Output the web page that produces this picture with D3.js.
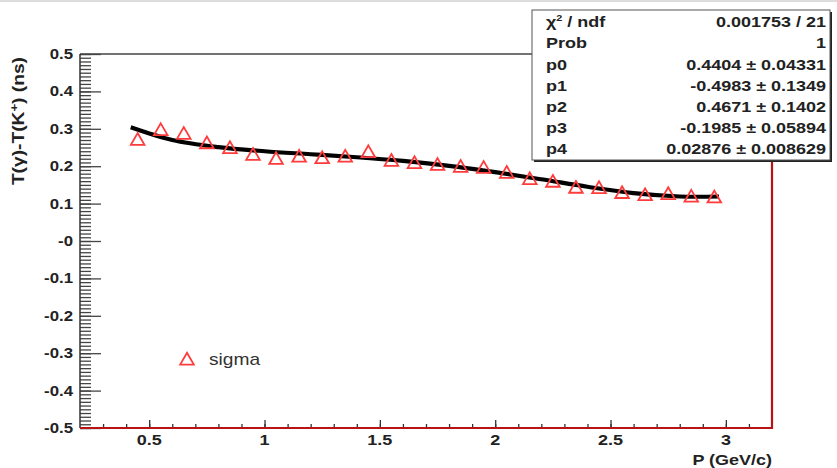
<!DOCTYPE html>
<html>
<head>
<meta charset="utf-8">
<title>sigma fit</title>
<style>
  body { margin: 0; background: #fff; }
  svg { display: block; }
  text { font-family: "Liberation Sans", Arial, sans-serif; }
</style>
<script src="https://cdnjs.cloudflare.com/ajax/libs/d3/7.8.5/d3.min.js"></script>
</head>
<body>
<div id="chart"></div>
<script>
// measured points (sigma)
const pValues = [0.45, 0.55, 0.65, 0.75, 0.85, 0.95, 1.05, 1.15, 1.25, 1.35, 1.45, 1.55, 1.65,
                 1.75, 1.85, 1.95, 2.05, 2.15, 2.25, 2.35, 2.45, 2.55, 2.65, 2.75, 2.85, 2.95];
const sigmaValues = [0.272, 0.298, 0.288, 0.263, 0.250, 0.232, 0.221, 0.227, 0.223, 0.227, 0.239, 0.216, 0.210,
                     0.205, 0.200, 0.197, 0.184, 0.167, 0.160, 0.144, 0.143, 0.130, 0.124, 0.127, 0.120, 0.118];

// fit curve
const fitP = [0.42, 0.6, 0.8, 1.0, 1.2, 1.4, 1.6, 1.8, 2.0, 2.2, 2.4, 2.6, 2.8, 2.97];
const fitValues = [0.304, 0.270, 0.251, 0.240, 0.232, 0.224, 0.214, 0.201, 0.184, 0.165, 0.145, 0.128, 0.119, 0.119];

const xTicks = [0.5, 1, 1.5, 2, 2.5, 3];
const xTickLabels = ["0.5", "1", "1.5", "2", "2.5", "3"];
const yTicks = [-0.5, -0.4, -0.3, -0.2, -0.1, 0, 0.1, 0.2, 0.3, 0.4, 0.5];
const yTickLabels = ["-0.5", "-0.4", "-0.3", "-0.2", "-0.1", "-0", "0.1", "0.2", "0.3", "0.4", "0.5"];

const statNames = ["χ² / ndf", "Prob", "p0", "p1", "p2", "p3", "p4"];
const statValues = ["0.001753 / 21", "1", "0.4404 ± 0.04331", "-0.4983 ± 0.1349",
                    "0.4671 ± 0.1402", "-0.1985 ± 0.05894", "0.02876 ± 0.008629"];

const W = 837, H = 468;
const plotL = 80, plotR = 772, plotT = 54, plotB = 428;
const frameRed = "#b81418";
const sx = 1.2; // the picture's lettering is drawn wide

const svg = d3.select("#chart").append("svg")
  .attr("width", W).attr("height", H);

svg.append("rect").attr("width", W).attr("height", H).attr("fill", "#fff");
svg.append("line").attr("x1", 0).attr("x2", W).attr("y1", 1).attr("y2", 1)
  .attr("stroke", "#ddd").attr("stroke-width", 2);

const x = d3.scaleLinear().domain([0.2, 3.2]).range([plotL, plotR]);
const y = d3.scaleLinear().domain([-0.5, 0.5]).range([plotB, plotT]);

// minor ticks
const xMinor = d3.range(3, 32).map(d => d / 10);
const yMinor = d3.range(-50, 51).map(d => d / 100);

svg.append("g").attr("transform", `translate(0,${plotB})`)
  .call(d3.axisTop(x).tickValues(xMinor).tickSize(4).tickFormat(""))
  .call(g => g.select(".domain").remove())
  .selectAll("line").attr("stroke", "#333").attr("stroke-width", 1.3);

svg.append("g").attr("transform", `translate(0,${plotB})`)
  .call(d3.axisTop(x).tickValues(xTicks).tickSize(8).tickFormat(""))
  .call(g => g.select(".domain").remove())
  .selectAll("line").attr("stroke", "#333").attr("stroke-width", 1.3);

svg.append("g").attr("transform", `translate(${plotL},0)`)
  .call(d3.axisRight(y).tickValues(yMinor).tickSize(11).tickFormat(""))
  .call(g => g.select(".domain").remove())
  .selectAll("line").attr("stroke", "#444").attr("stroke-width", 1.3);

svg.append("g").attr("transform", `translate(${plotL},0)`)
  .call(d3.axisRight(y).tickValues(yTicks).tickSize(21).tickFormat(""))
  .call(g => g.select(".domain").remove())
  .selectAll("line").attr("stroke", "#444").attr("stroke-width", 1.3);

// tick labels
svg.append("g").selectAll("text").data(xTicks).join("text")
  .attr("transform", d => `translate(${x(d)},${plotB + 17}) scale(${sx},1)`)
  .attr("text-anchor", "middle").attr("font-size", 15).attr("font-weight", "bold")
  .attr("fill", "#222")
  .text((d, i) => xTickLabels[i]);

svg.append("g").selectAll("text").data(yTicks).join("text")
  .attr("transform", d => `translate(${plotL - 7},${y(d) + 5}) scale(${sx},1)`)
  .attr("text-anchor", "end").attr("font-size", 14).attr("font-weight", "bold")
  .attr("fill", "#222")
  .text((d, i) => yTickLabels[i]);

// frame
svg.append("line").attr("x1", plotL).attr("x2", plotR).attr("y1", plotT).attr("y2", plotT)
  .attr("stroke", "#444").attr("stroke-width", 1.5);
svg.append("line").attr("x1", plotL).attr("x2", plotL).attr("y1", plotT).attr("y2", plotB)
  .attr("stroke", "#333").attr("stroke-width", 1.5);
svg.append("path")
  .attr("d", `M${plotR},${plotT}V${plotB}H${plotL}`)
  .attr("fill", "none").attr("stroke", frameRed).attr("stroke-width", 2.2);

// titles
svg.append("text")
  .attr("transform", `translate(24,${plotT + 3}) rotate(-90) scale(1.2,1)`)
  .attr("text-anchor", "end").attr("font-size", 16).attr("font-weight", "bold").attr("fill", "#222")
  .html('T(γ)-T(K<tspan dy="-6" font-size="11">+</tspan><tspan dy="6">) (ns)</tspan>');

svg.append("text")
  .attr("transform", `translate(${plotR},465) scale(${sx},1)`)
  .attr("text-anchor", "end").attr("font-size", 15).attr("font-weight", "bold").attr("fill", "#222")
  .text("P (GeV/c)");

// fit curve
const line = d3.line().x(d => x(d[0])).y(d => y(d[1])).curve(d3.curveCatmullRom);
svg.append("path")
  .datum(fitP.map((p, i) => [p, fitValues[i]]))
  .attr("d", line)
  .attr("fill", "none").attr("stroke", "#000").attr("stroke-width", 4.2);

// markers
const tri = "M0,-6.2L6.8,5.6L-6.8,5.6Z";
svg.append("g").selectAll("path").data(pValues).join("path")
  .attr("transform", (d, i) => `translate(${x(d)},${y(sigmaValues[i])})`)
  .attr("d", tri)
  .attr("fill", "none").attr("stroke", "#ff3b3b").attr("stroke-width", 1.8);

// legend
svg.append("path").attr("transform", "translate(187,359)").attr("d", tri)
  .attr("fill", "none").attr("stroke", "#ff3b3b").attr("stroke-width", 1.8);
svg.append("text").attr("transform", `translate(209,365) scale(${sx},1)`)
  .attr("font-size", 16).attr("fill", "#333").text("sigma");

// stats box
const bx = 532, by = 10, bw = 298, bh = 150;
svg.append("rect").attr("x", bx + 2).attr("y", by + 2).attr("width", bw).attr("height", bh)
  .attr("fill", "#222");
svg.append("rect").attr("x", bx).attr("y", by).attr("width", bw).attr("height", bh)
  .attr("fill", "#fff").attr("stroke", "#555").attr("stroke-width", 1);

const rowH = 21.1;
svg.append("g").selectAll("text").data(statNames).join("text")
  .attr("transform", (d, i) => `translate(${bx + 14},${by + 17.3 + i * rowH}) scale(${sx},1)`)
  .attr("font-size", 15).attr("font-weight", "bold").attr("fill", "#222")
  .html((d, i) => i === 0 ? 'χ<tspan dy="-6" font-size="9">2</tspan><tspan dy="6"> / ndf</tspan>' : d);

svg.append("g").selectAll("text").data(statValues).join("text")
  .attr("transform", (d, i) => `translate(${bx + bw - 4},${by + 17.3 + i * rowH}) scale(${sx},1)`)
  .attr("text-anchor", "end").attr("font-size", 15).attr("font-weight", "bold").attr("fill", "#222")
  .text(d => d);
</script>
</body>
</html>
